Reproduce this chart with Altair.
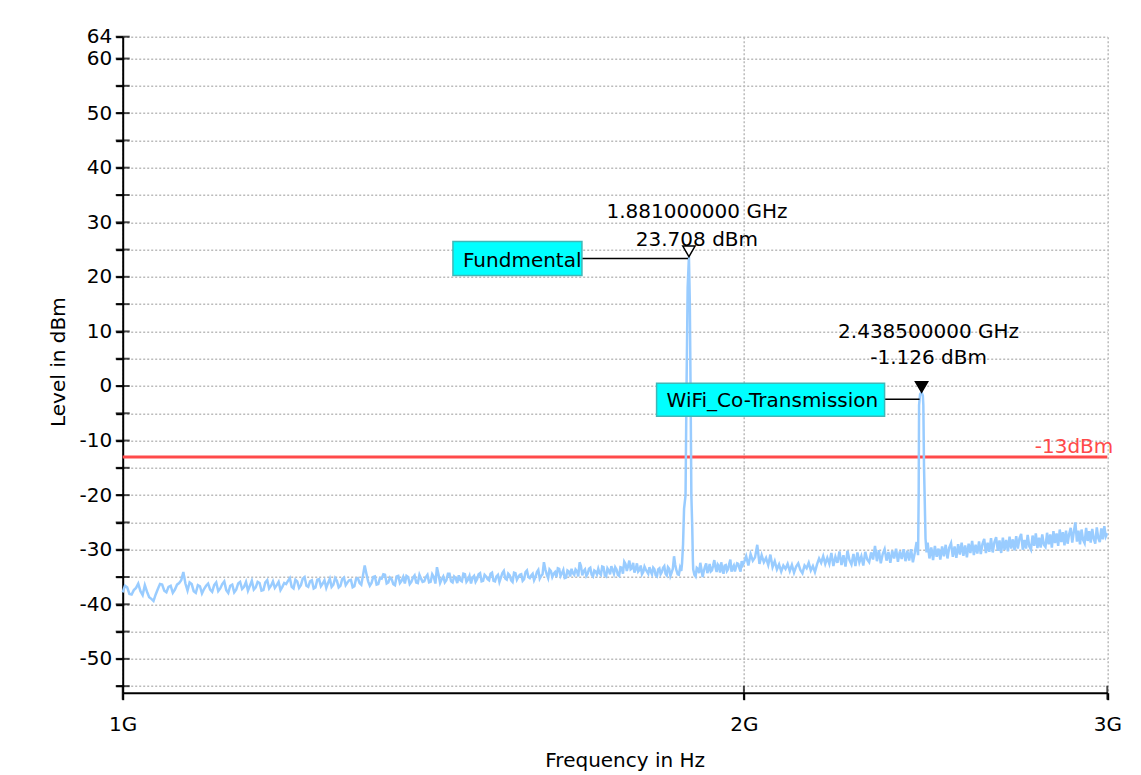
import altair as alt
import pandas as pd

# ---------------- data ----------------
# noise floor on the analyser sweep grid: 1.000 GHz .. 3.000 GHz, 5 MHz apart
SWEEP_START_GHZ = 1.0
SWEEP_STEP_GHZ = 0.005
NOISE_DBM = [
    -37.8, -36.9, -38.2, -37.0, -37.6, -36.5, -38.7, -39.4, -37.2, -36.4, -37.8, -36.6, -37.3, -36.1, -34.1, -37.5, -36.3, -37.9, -36.7, -37.2,
    -36.2, -37.7, -36.0, -37.1, -35.8, -37.9, -36.4, -37.3, -35.9, -36.8, -37.5, -35.7, -36.9, -36.1, -37.4, -35.6, -36.6, -37.0, -35.9, -36.8,
    -36.3, -35.2, -37.1, -35.8, -36.5, -35.0, -36.8, -35.6, -36.9, -35.4, -36.2, -37.0, -35.3, -36.4, -35.7, -36.6, -35.1, -36.0, -35.5, -36.7,
    -35.2, -36.4, -32.9, -35.8, -36.1, -34.9, -36.3, -35.3, -34.6, -36.0, -35.4, -36.5, -34.8, -35.7, -36.2, -35.0, -35.9, -34.7, -36.1, -35.3,
    -35.8, -34.6, -35.9, -35.0, -33.2, -36.1, -34.9, -35.6, -34.4, -36.0, -35.2, -34.7, -35.8, -34.5, -35.5, -36.2, -34.8, -35.4, -34.3, -35.7,
    -34.9, -35.6, -34.2, -35.8, -34.6, -35.1, -33.9, -35.5, -34.7, -35.9, -34.3, -35.0, -34.5, -35.4, -33.8, -35.2, -34.4, -35.0, -33.7, -34.8,
    -32.3, -34.5, -33.6, -35.0, -34.1, -33.4, -34.8, -33.7, -35.1, -34.0, -33.5, -34.6, -33.9, -32.3, -34.7, -33.6, -34.4, -33.3, -34.9, -34.0,
    -33.5, -34.6, -33.2, -34.9, -33.8, -33.0, -34.4, -33.6, -34.8, -33.3, -32.2, -33.9, -32.0, -33.4, -34.2, -32.5, -33.7, -34.5, -33.1, -34.0,
    -33.2, -34.5, -33.6, -34.9, -33.4, -34.1, -33.0, -34.7, -33.5, -34.2, -31.2, -33.8, -34.6, -33.9, None, None, None, None, -33.6, -34.9,
    -33.5, -32.4, -35.0, -33.1, -34.3, -32.6, -33.8, -31.9, -34.1, -33.0, -32.3, -34.4, -32.8, -33.6, -31.8, -33.3, -34.0, -32.5, -33.4, -32.1,
    -32.4, -31.2, -32.9, -30.8, -32.0, -31.4, -29.1, -32.6, -31.0, -32.3, -31.5, -32.8, -30.9, -33.2, -32.1, -33.6, -32.7, -34.0, -32.9, -33.5,
    -32.6, -33.9, -32.8, -34.2, -33.1, -32.5, -33.7, -34.3, -32.9, -33.4, -32.4, -33.8, -33.0, -34.1, -32.7, -31.6, -32.4, -31.2, -32.6, -31.5,
    -32.6, -30.6, -33.0, -31.3, -32.4, -30.3, -32.8, -31.0, -33.1, -30.2, -31.9, -32.7, -30.8, -33.0, -30.5, -32.3, -31.2, -32.9, -30.4, -31.8,
    -32.3, -30.5, -31.8, -29.3, -32.1, -30.1, -32.5, -30.8, -29.9, -32.0, -30.4, -32.4, -30.2, -31.6, -29.8, -32.2, -30.3, -31.7, -29.9, -32.1,
    -30.2, -32.0, -29.9, -32.3, -30.6, -28.6, None, None, None, None, None, -28.7, -31.6, -29.6, -31.9, -29.3, -31.3, -29.8, -31.8, -29.4,
    -31.2, -29.1, -31.6, -29.6, -28.8, -31.3, -29.4, -31.5, -29.0, -30.9, -28.7, -31.1, -29.2, -31.4, -28.9, -30.6, -28.4, -31.0, -29.1, -30.7,
    -28.5, -30.8, -28.9, -28.0, -30.6, -28.7, -30.4, -27.9, -30.5, -28.6, -27.7, -30.2, -28.3, -30.6, -27.8, -30.0, -28.2, -30.3, -27.6, -29.8,
    -28.1, -30.1, -27.5, -29.8, -27.9, -27.1, -30.0, -28.2, -29.8, -27.3, -29.4, -30.0, -27.4, -29.3, -27.0, -29.7, -27.8, -29.6, -27.2, -29.1,
    -29.5, -26.9, -29.0, -27.2, -29.6, -26.6, -28.8, -27.0, -29.3, -26.3, -28.6, -26.8, -29.2, -26.5, -28.9, -27.1, -26.0, -28.7, -26.7, -25.0,
    -28.5, -26.5, -29.0, -26.3, -28.2, -28.8, -26.0, -28.4, -26.6, -28.7, -26.2, -28.0, -28.9, -25.9, -27.9, -28.6, -26.1, -28.1, -25.7, -27.6,
    -27.0,
]

# extra sweep points halfway between the above, 1.0025 .. 1.9975 GHz (the wide part of the log axis)
MID_START_GHZ = 1.0025
NOISE_MID_DBM = [
    -36.6, -38.1, -37.4, -36.2, -38.3, -37.7, -39.0, -38.2, -36.3, -37.5, -36.8, -37.9, -36.4, -35.6, -36.2, -36.0, -37.6, -36.5, -38.0, -36.6,
    -37.3, -36.5, -37.6, -36.3, -37.4, -36.6, -37.8, -36.2, -37.2, -35.9, -36.6, -37.3, -35.9, -37.5, -36.0, -37.1, -35.8, -36.5, -37.4, -36.1,
    -35.7, -36.8, -35.5, -37.0, -35.3, -36.6, -35.8, -37.1, -35.5, -36.7, -35.6, -36.1, -36.8, -35.2, -36.9, -35.4, -36.5, -35.6, -36.9, -35.3,
    -36.1, -34.7, -34.4, -36.6, -35.0, -36.4, -35.2, -34.5, -36.2, -35.1, -36.3, -34.9, -36.1, -35.0, -34.8, -36.3, -35.1, -36.0, -34.6, -35.9,
    -35.0, -36.0, -34.5, -36.2, -34.6, -35.4, -36.0, -34.4, -35.8, -34.9, -36.1, -35.6, -34.4, -35.9, -34.8, -35.1, -35.9, -34.5, -35.8, -34.6,
    -35.4, -34.4, -35.7, -34.9, -35.9, -34.3, -35.3, -34.4, -35.6, -34.2, -35.5, -34.6, -35.7, -34.1, -35.0, -34.7, -35.6, -34.1, -35.3, -34.5,
    -33.6, -35.2, -33.9, -34.4, -35.0, -33.5, -34.3, -35.2, -33.8, -34.9, -34.3, -33.6, -34.9, -33.0, -33.9, -34.8, -33.5, -34.6, -33.8, -34.5,
    -34.3, -33.1, -34.7, -33.4, -34.5, -33.7, -33.2, -34.6, -33.2, -34.4, -32.6, -33.0, -33.6, -32.4, -33.6, -34.0, -32.9, -34.1, -33.6, -34.4,
    -34.0, -33.3, -34.7, -33.6, -34.5, -33.3, -34.4, -33.2, -34.8, -33.5, -32.8, -34.5, -33.3, None, None, None, None, None, -34.6, -33.3,
    -34.3, -33.6, -33.9, -32.5, -33.7, -34.0, -32.9, -33.2, -32.7, -34.2, -33.5, -32.9, -33.9, -32.6, -34.0, -32.9, -33.2, -32.6, -34.0, -32.8,
]

# fundamental carrier peak
FUND_F_GHZ = [1.8666, 1.8687, 1.8708, 1.8739, 1.8760, 1.8783, 1.8810, 1.8829, 1.8844, 1.8861, 1.8867, 1.8880, 1.8893]
FUND_DBM = [-32.5, -29.0, -22.5, -20.0, 0.0, 18.0, 23.708, 15.0, 0.0, -20.0, -22.0, -26.0, -32.0]

# WiFi co-transmission peak
WIFI_F_GHZ = [2.4290, 2.4306, 2.4317, 2.4344, 2.4385, 2.4420, 2.4433, 2.4452, 2.4493, 2.4520]
WIFI_DBM = [-31.0, -20.0, -3.5, -1.5, -1.126, -1.8, -3.5, -15.0, -28.0, -30.5]

MARKER_NAMES = ["Fundmental", "WiFi_Co-Transmission"]
MARKER_F_GHZ = [1.881, 2.4385]
MARKER_DBM = [23.708, -1.126]
MARKER_FILLED = [False, True]

LIMIT_DBM = [-13]
LIMIT_LABEL = ["-13dBm"]

X_DOMAIN_GHZ = [1, 3]
X_TICKS_GHZ = [1, 2, 3]
Y_DOMAIN = [-56.2, 64]
Y_TICKS = [64, 60, 55, 50, 45, 40, 35, 30, 25, 20, 15, 10, 5, 0, -5, -10, -15, -20,
           -25, -30, -35, -40, -45, -50, -55]

# ---------------- styles (pixels) ----------------
FONT = "DejaVu Sans"
TRACE_COLOR = "#99CCFF"
LIMIT_COLOR = "#FF4A4A"
BOX_FILL = "#00FFFF"
BOX_STROKE = "#3FB8B8"
# per marker: box x-range, box y-range, connector x-range, connector y, box text dx, dy,
# readout dx, readout dy (line 1, line 2)
ANNOT = [
    dict(box_x=(-236, -107), box_y=(-15, 19), conn_x=(-107, -1), conn_y=2,
         txt=(-226, 10), lab_dx=8, lab_dy=(-39, -10.6)),
    dict(box_x=(-265, -37), box_y=(-9, 24), conn_x=(-37, -2), conn_y=7,
         txt=(-255, 14.6), lab_dx=7, lab_dy=(-54.4, -27.7)),
]

# ---------------- tables ----------------
main = pd.DataFrame({
    "f_ghz": [round(SWEEP_START_GHZ + i * SWEEP_STEP_GHZ, 4) for i in range(len(NOISE_DBM))],
    "dbm": NOISE_DBM,
})
mid = pd.DataFrame({
    "f_ghz": [round(MID_START_GHZ + i * SWEEP_STEP_GHZ, 4) for i in range(len(NOISE_MID_DBM))],
    "dbm": NOISE_MID_DBM,
})
noise = pd.concat([main, mid]).dropna()
for fs in (FUND_F_GHZ, WIFI_F_GHZ):
    noise = noise[(noise.f_ghz < fs[0]) | (noise.f_ghz > fs[-1])]
trace = pd.concat([
    noise,
    pd.DataFrame({"f_ghz": FUND_F_GHZ, "dbm": FUND_DBM}),
    pd.DataFrame({"f_ghz": WIFI_F_GHZ, "dbm": WIFI_DBM}),
]).sort_values("f_ghz").reset_index(drop=True)
trace["f_hz"] = trace.f_ghz * 1e9
trace["idx"] = range(len(trace))

markers = pd.DataFrame({
    "name": MARKER_NAMES,
    "f_hz": [f * 1e9 for f in MARKER_F_GHZ],
    "dbm": MARKER_DBM,
    "freq_txt": [f"{f:.9f} GHz" for f in MARKER_F_GHZ],
    "lvl_txt": [f"{v:.3f} dBm" for v in MARKER_DBM],
})

limit = pd.DataFrame({"dbm": LIMIT_DBM, "label": LIMIT_LABEL,
                      "f_hz": [X_DOMAIN_GHZ[1] * 1e9]})
yticks = pd.DataFrame({"dbm": Y_TICKS, "f_hz": [X_DOMAIN_GHZ[0] * 1e9] * len(Y_TICKS)})
xticks = pd.DataFrame({"f_hz": [v * 1e9 for v in X_TICKS_GHZ],
                       "dbm": [Y_DOMAIN[0]] * len(X_TICKS_GHZ)})

# ---------------- scales / axes ----------------
x_scale = alt.Scale(type="log", domain=[X_DOMAIN_GHZ[0] * 1e9, X_DOMAIN_GHZ[1] * 1e9], nice=False)
y_scale = alt.Scale(domain=Y_DOMAIN, nice=False, zero=False)

x_axis = alt.Axis(
    values=[v * 1e9 for v in X_TICKS_GHZ],
    labelExpr="(datum.value / 1e9) + 'G'",
    labelFlush=False,
    title="Frequency in Hz",
    labelPadding=15,
    titleX=502, titleY=74, titleBaseline="alphabetic", titleAlign="center",
)
y_axis = alt.Axis(
    values=Y_TICKS,
    labelExpr="(datum.value % 10 == 0 || datum.value == 64) ? '' + datum.value : ''",
    labelFlush=False,
    title="Level in dBm",
    labelPadding=4,
    titleX=-58, titleY=325, titleBaseline="alphabetic", titleAlign="center", titleAngle=-90,
)


def X(field="f_hz"):
    return alt.X(f"{field}:Q", scale=x_scale, axis=x_axis)


def Y(field="dbm"):
    return alt.Y(f"{field}:Q", scale=y_scale, axis=y_axis)


layers = []

# limit line (under the trace)
layers.append(alt.Chart(limit).mark_rule(color=LIMIT_COLOR, strokeWidth=3).encode(y=Y()))

# spectrum trace
layers.append(
    alt.Chart(trace).mark_line(color=TRACE_COLOR, strokeWidth=2.5).encode(
        x=X(), y=Y(), order="idx:Q")
)

# limit label
layers.append(
    alt.Chart(limit).mark_text(align="right", baseline="alphabetic", dx=6, dy=-4,
                               font=FONT, fontSize=20, color=LIMIT_COLOR).encode(
        x=X(), y=Y(), text="label:N")
)

# crossing tick marks on both axes
layers.append(
    alt.Chart(yticks).mark_tick(orient="horizontal", size=14, thickness=2, color="black").encode(
        x=X(), y=Y())
)
layers.append(
    alt.Chart(xticks).mark_tick(orient="vertical", size=14, thickness=2, color="black").encode(
        x=X(), y=Y())
)

# marker annotations
for i, a in enumerate(ANNOT):
    m = markers.iloc[[i]]
    base = alt.Chart(m)
    layers.append(
        base.mark_rule(color="black", strokeWidth=1.5,
                       xOffset=a["conn_x"][0], x2Offset=a["conn_x"][1],
                       yOffset=a["conn_y"], y2Offset=a["conn_y"]).encode(
            x=X(), x2="f_hz:Q", y=Y(), y2="dbm:Q")
    )
    layers.append(
        base.mark_rect(fill=BOX_FILL, stroke=BOX_STROKE, strokeWidth=1.5,
                       xOffset=a["box_x"][0], x2Offset=a["box_x"][1],
                       yOffset=a["box_y"][0], y2Offset=a["box_y"][1]).encode(
            x=X(), x2="f_hz:Q", y=Y(), y2="dbm:Q")
    )
    layers.append(
        base.mark_text(align="left", baseline="alphabetic", dx=a["txt"][0], dy=a["txt"][1],
                       font=FONT, fontSize=20, color="black").encode(
            x=X(), y=Y(), text="name:N")
    )
    layers.append(
        base.mark_point(shape="triangle-down", size=150, opacity=1,
                        filled=MARKER_FILLED[i],
                        fill="black" if MARKER_FILLED[i] else "white",
                        stroke="black", strokeWidth=1.5, yOffset=-5.2).encode(
            x=X(), y=Y())
    )
    for field, dy in (("freq_txt", a["lab_dy"][0]), ("lvl_txt", a["lab_dy"][1])):
        layers.append(
            base.mark_text(align="center", baseline="alphabetic", dx=a["lab_dx"], dy=dy,
                           font=FONT, fontSize=20, color="black").encode(
                x=X(), y=Y(), text=f"{field}:N")
        )

chart = (
    alt.layer(*layers)
    .properties(
        width=984.6, height=656,
        padding={"left": 122.7, "top": 36.7, "right": 33.7, "bottom": 82.3},
        autosize=alt.AutoSizeParams(type="none"),
        background="white",
    )
    .configure_view(strokeWidth=0)
    .configure_axis(
        labelFont=FONT, labelFontSize=20, labelColor="black",
        titleFont=FONT, titleFontSize=20, titleColor="black", titleFontWeight="normal",
        domainColor="black", domainWidth=2,
        tickColor="black", tickWidth=2, tickSize=7,
        grid=True, gridColor="#BBBBBB", gridDash=[2, 2], gridWidth=1.5,
    )
)

chart.save("out.html", embed_options={"renderer": "svg", "actions": False})
